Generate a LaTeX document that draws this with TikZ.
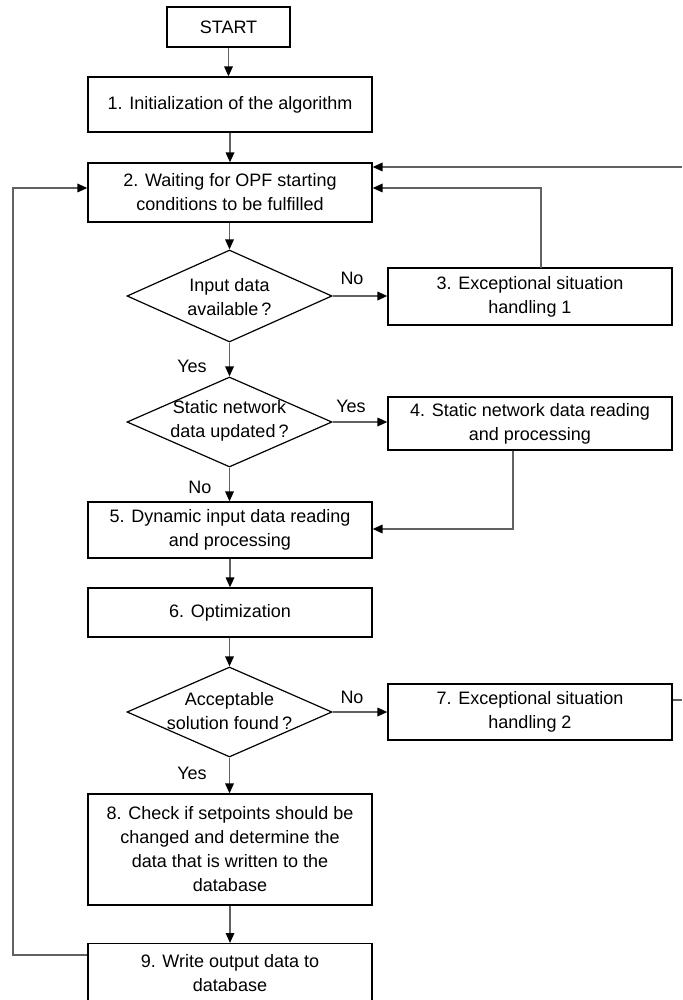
\documentclass[tikz,border=0pt]{standalone}
\usepackage{fontspec}
\setmainfont{Liberation Sans}
\usetikzlibrary{shapes.geometric,arrows.meta}
\begin{document}
\begin{tikzpicture}[x=1pt,y=-1pt,
  every node/.style={font=\fontsize{18}{24}\selectfont, text=black},
  box/.style={draw=black, line width=1.2pt, rectangle, minimum width=284pt, inner sep=0pt, align=center},
  dia/.style={draw=black, line width=1.2pt, diamond, minimum width=205pt, minimum height=92pt, inner sep=0pt},
  dtext/.style={align=center, inner sep=0pt},
  lbl/.style={inner sep=0pt},
  conn/.style={draw=black!62, line width=1.7pt},
  arr/.style={conn, -{Triangle[length=10pt,width=8.5pt,color=black]}}
]
\useasboundingbox (0,0) rectangle (682,1000);

% process boxes
\node[box, minimum width=123pt, minimum height=40pt] (start) at (228.5,27) {START};
\node[box, minimum height=55pt] (b1) at (230,104.5) {1. Initialization of the algorithm};
\node[box, minimum height=59pt] (b2) at (230,192.5) {2. Waiting for OPF starting\\conditions to be fulfilled};
\node[box, minimum height=57pt] (b3) at (530,296.5) {3. Exceptional situation\\handling 1};
\node[box, minimum height=53pt] (b4) at (530,423.5) {4. Static network data reading\\and processing};
\node[box, minimum height=56pt] (b5) at (230,530) {5. Dynamic input data reading\\and processing};
\node[box, minimum height=49pt] (b6) at (230,612.5) {6. Optimization};
\node[box, minimum height=56pt] (b7) at (530,712) {7. Exceptional situation\\handling 2};
\node[box, minimum height=111pt] (b8) at (230,849.5) {8. Check if setpoints should be\\changed and determine the\\data that is written to the\\database};
\node[box, minimum height=58pt, anchor=north] (b9) at (230,943) {9. Write output data to\\database};

% decisions
\node[dia] (d1) at (229.5,296) {};
\node[dtext] (d1t) at (229.5,297) {Input data\\available\,?};
\node[dia, minimum height=90pt] (d2) at (229.5,422) {};
\node[dtext] (d2t) at (229.5,421) {Static network\\data updated\,?};
\node[dia, minimum height=90pt] (d3) at (229.5,712) {};
\node[dtext] (d3t) at (229.5,711) {Acceptable\\solution found\,?};

% free ends at the right margin
\coordinate (inA) at (682,167);
\coordinate (outA) at (682,700);
\coordinate (loopL) at (13,955);
\coordinate (s4) at (513,529);

% main flow
\draw[arr] (start.south) -- (start.south |- b1.north);
\draw[arr] (b1) -- (b2);
\draw[arr] (b2.south -| d1.north) -- (d1.north);
\draw[arr] (d1.east) -- (d1.east -| b3.west);
\draw[arr] (d1.south) -- (d2.north);
\draw[arr] (d2.east) -- (d2.east -| b4.west);
\draw[arr] (d2.south) -- (d2.south |- b5.north);
\draw[arr] (s4 |- b4.south) -- (s4) -- (s4 -| b5.east);
\draw[arr] (b5) -- (b6);
\draw[arr] (b6.south -| d3.north) -- (d3.north);
\draw[arr] (d3.east) -- (d3.east -| b7.west);
\draw[arr] (d3.south) -- (d3.south |- b8.north);
\draw[arr] (b8) -- (b9);

% feedback loops
\draw[arr] (b9.west |- loopL) -- (loopL) -- (13,188) -- (b2.west |- 0,188);
\draw[arr] (541,268) -- (541,188) -- (b2.east |- 0,188);
\draw[arr] (inA) -- (inA -| b2.east);
\draw[conn] (b7.east |- outA) -- (outA);

% branch labels
\node[lbl] (n1) at (352,278) {No};
\node[lbl] (y1) at (192,366) {Yes};
\node[lbl] (y2) at (351,406) {Yes};
\node[lbl] (n2) at (200,487) {No};
\node[lbl] (n3) at (352,697) {No};
\node[lbl] (y3) at (192,773) {Yes};
\end{tikzpicture}
\end{document}
